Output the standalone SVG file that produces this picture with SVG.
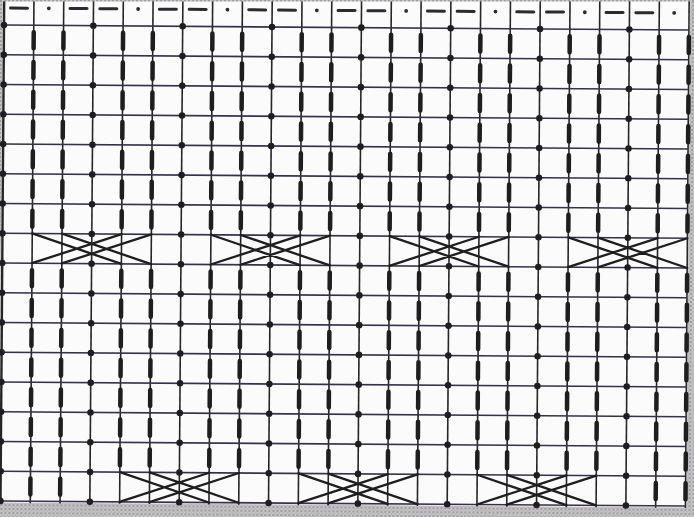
<svg xmlns="http://www.w3.org/2000/svg" width="694" height="517" viewBox="0 0 694 517">
  <defs>
    <pattern id="halftone" width="4" height="4" patternUnits="userSpaceOnUse">
      <rect width="4" height="4" fill="#c6c4c6"/>
      <circle cx="1" cy="1" r="0.9" fill="#8d8b90"/>
      <circle cx="3" cy="3" r="0.7" fill="#a7a2a8"/>
    </pattern>
    <style>
      .vline { stroke: #262626; stroke-width: 1.6; }
      .hline { stroke: #33324a; stroke-width: 1.6; }
      .bar { stroke: #1e1e1e; stroke-width: 4.5; stroke-linecap: round; stroke-dasharray: 16 13.75; fill: none; }
      .dots { stroke: #1e1e1e; stroke-width: 6.5; stroke-linecap: round; stroke-dasharray: 0 29.75; fill: none; }
      .dash { stroke: #2c2a30; stroke-width: 3; stroke-linecap: round; }
      .hdot { fill: #2c2a30; }
      .cable { stroke: #1e1e1e; stroke-width: 2.3; fill: none; stroke-linecap: round; }
    </style>
  </defs>
  <rect width="694" height="517" fill="#fbfbfb"/>
  <g transform="rotate(0.42 4 25)">
    <g id="margins">
      <rect x="-30" y="-30" width="32.5" height="580" fill="url(#halftone)"/>
      <rect x="-30" y="502.5" width="760" height="60" fill="url(#halftone)"/>
      <rect x="690" y="-30" width="40" height="580" fill="url(#halftone)"/>
    </g>
    <g id="grid">
      <g id="vertical-lines">
        <line class="vline" x1="4" y1="-10" x2="4" y2="503" style="stroke-width:2.4"/>
        <line class="vline" x1="33.78" y1="-10" x2="33.78" y2="503"/>
        <line class="vline" x1="63.56" y1="-10" x2="63.56" y2="503"/>
        <line class="vline" x1="93.34" y1="-10" x2="93.34" y2="503"/>
        <line class="vline" x1="123.12" y1="-10" x2="123.12" y2="503"/>
        <line class="vline" x1="152.9" y1="-10" x2="152.9" y2="503"/>
        <line class="vline" x1="182.68" y1="-10" x2="182.68" y2="503"/>
        <line class="vline" x1="212.46" y1="-10" x2="212.46" y2="503"/>
        <line class="vline" x1="242.24" y1="-10" x2="242.24" y2="503"/>
        <line class="vline" x1="272.02" y1="-10" x2="272.02" y2="503"/>
        <line class="vline" x1="301.8" y1="-10" x2="301.8" y2="503"/>
        <line class="vline" x1="331.58" y1="-10" x2="331.58" y2="503"/>
        <line class="vline" x1="361.36" y1="-10" x2="361.36" y2="503"/>
        <line class="vline" x1="391.14" y1="-10" x2="391.14" y2="503"/>
        <line class="vline" x1="420.92" y1="-10" x2="420.92" y2="503"/>
        <line class="vline" x1="450.7" y1="-10" x2="450.7" y2="503"/>
        <line class="vline" x1="480.48" y1="-10" x2="480.48" y2="503"/>
        <line class="vline" x1="510.26" y1="-10" x2="510.26" y2="503"/>
        <line class="vline" x1="540.04" y1="-10" x2="540.04" y2="503"/>
        <line class="vline" x1="569.82" y1="-10" x2="569.82" y2="503"/>
        <line class="vline" x1="599.6" y1="-10" x2="599.6" y2="503"/>
        <line class="vline" x1="629.38" y1="-10" x2="629.38" y2="503"/>
        <line class="vline" x1="659.16" y1="-10" x2="659.16" y2="503"/>
        <line class="vline" x1="688.94" y1="-10" x2="688.94" y2="503"/>
      </g>
      <g id="horizontal-lines">
        <line class="hline" x1="4" y1="25" x2="689" y2="25"/>
        <line class="hline" x1="4" y1="54.75" x2="689" y2="54.75"/>
        <line class="hline" x1="4" y1="84.5" x2="689" y2="84.5"/>
        <line class="hline" x1="4" y1="114.25" x2="689" y2="114.25"/>
        <line class="hline" x1="4" y1="144" x2="689" y2="144"/>
        <line class="hline" x1="4" y1="173.75" x2="689" y2="173.75"/>
        <line class="hline" x1="4" y1="203.5" x2="689" y2="203.5"/>
        <line class="hline" x1="4" y1="233.25" x2="689" y2="233.25"/>
        <line class="hline" x1="4" y1="263" x2="689" y2="263"/>
        <line class="hline" x1="4" y1="292.75" x2="689" y2="292.75"/>
        <line class="hline" x1="4" y1="322.5" x2="689" y2="322.5"/>
        <line class="hline" x1="4" y1="352.25" x2="689" y2="352.25"/>
        <line class="hline" x1="4" y1="382" x2="689" y2="382"/>
        <line class="hline" x1="4" y1="411.75" x2="689" y2="411.75"/>
        <line class="hline" x1="4" y1="441.5" x2="689" y2="441.5"/>
        <line class="hline" x1="4" y1="471.25" x2="689" y2="471.25"/>
        <line class="hline" x1="4" y1="501" x2="689" y2="501"/>
      </g>
    </g>
    <g id="header-row">
      <line class="dash" x1="10.39" y1="8" x2="27.39" y2="8"/>
      <circle class="hdot" cx="48.67" cy="8" r="1.9"/>
      <line class="dash" x1="69.95" y1="8" x2="86.95" y2="8"/>
      <line class="dash" x1="99.73" y1="8" x2="116.73" y2="8"/>
      <circle class="hdot" cx="138.01" cy="8" r="1.9"/>
      <line class="dash" x1="159.29" y1="8" x2="176.29" y2="8"/>
      <line class="dash" x1="189.07" y1="8" x2="206.07" y2="8"/>
      <circle class="hdot" cx="227.35" cy="8" r="1.9"/>
      <line class="dash" x1="248.63" y1="8" x2="265.63" y2="8"/>
      <line class="dash" x1="278.41" y1="8" x2="295.41" y2="8"/>
      <circle class="hdot" cx="316.69" cy="8" r="1.9"/>
      <line class="dash" x1="337.97" y1="8" x2="354.97" y2="8"/>
      <line class="dash" x1="367.75" y1="8" x2="384.75" y2="8"/>
      <circle class="hdot" cx="406.03" cy="8" r="1.9"/>
      <line class="dash" x1="427.31" y1="8" x2="444.31" y2="8"/>
      <line class="dash" x1="457.09" y1="8" x2="474.09" y2="8"/>
      <circle class="hdot" cx="495.37" cy="8" r="1.9"/>
      <line class="dash" x1="516.65" y1="8" x2="533.65" y2="8"/>
      <line class="dash" x1="546.43" y1="8" x2="563.43" y2="8"/>
      <circle class="hdot" cx="584.71" cy="8" r="1.9"/>
      <line class="dash" x1="605.99" y1="8" x2="622.99" y2="8"/>
      <line class="dash" x1="635.77" y1="8" x2="652.77" y2="8"/>
      <circle class="hdot" cx="674.05" cy="8" r="1.9"/>
    </g>
    <g id="purl-dots">
      <line class="dots" x1="4" y1="25" x2="4" y2="501.5"/>
      <line class="dots" x1="93.34" y1="25" x2="93.34" y2="501.5"/>
      <line class="dots" x1="182.68" y1="25" x2="182.68" y2="501.5"/>
      <line class="dots" x1="272.02" y1="25" x2="272.02" y2="501.5"/>
      <line class="dots" x1="361.36" y1="25" x2="361.36" y2="501.5"/>
      <line class="dots" x1="450.7" y1="25" x2="450.7" y2="501.5"/>
      <line class="dots" x1="540.04" y1="25" x2="540.04" y2="501.5"/>
      <line class="dots" x1="629.38" y1="25" x2="629.38" y2="501.5"/>
    </g>
    <g id="knit-bars-upper">
      <line class="bar" x1="33.78" y1="32" x2="33.78" y2="226.5"/>
      <line class="bar" x1="63.56" y1="32" x2="63.56" y2="226.5"/>
      <line class="bar" x1="123.12" y1="32" x2="123.12" y2="226.5"/>
      <line class="bar" x1="152.9" y1="32" x2="152.9" y2="226.5"/>
      <line class="bar" x1="212.46" y1="32" x2="212.46" y2="226.5"/>
      <line class="bar" x1="242.24" y1="32" x2="242.24" y2="226.5"/>
      <line class="bar" x1="301.8" y1="32" x2="301.8" y2="226.5"/>
      <line class="bar" x1="331.58" y1="32" x2="331.58" y2="226.5"/>
      <line class="bar" x1="391.14" y1="32" x2="391.14" y2="226.5"/>
      <line class="bar" x1="420.92" y1="32" x2="420.92" y2="226.5"/>
      <line class="bar" x1="480.48" y1="32" x2="480.48" y2="226.5"/>
      <line class="bar" x1="510.26" y1="32" x2="510.26" y2="226.5"/>
      <line class="bar" x1="569.82" y1="32" x2="569.82" y2="226.5"/>
      <line class="bar" x1="599.6" y1="32" x2="599.6" y2="226.5"/>
      <line class="bar" x1="659.16" y1="32" x2="659.16" y2="226.5"/>
      <line class="bar" x1="688.94" y1="32" x2="688.94" y2="226.5"/>
    </g>
    <g id="knit-bars-lower">
      <line class="bar" x1="33.78" y1="270" x2="33.78" y2="494.25"/>
      <line class="bar" x1="63.56" y1="270" x2="63.56" y2="494.25"/>
      <line class="bar" x1="123.12" y1="270" x2="123.12" y2="464.5"/>
      <line class="bar" x1="152.9" y1="270" x2="152.9" y2="464.5"/>
      <line class="bar" x1="212.46" y1="270" x2="212.46" y2="464.5"/>
      <line class="bar" x1="242.24" y1="270" x2="242.24" y2="464.5"/>
      <line class="bar" x1="301.8" y1="270" x2="301.8" y2="464.5"/>
      <line class="bar" x1="331.58" y1="270" x2="331.58" y2="464.5"/>
      <line class="bar" x1="391.14" y1="270" x2="391.14" y2="464.5"/>
      <line class="bar" x1="420.92" y1="270" x2="420.92" y2="464.5"/>
      <line class="bar" x1="480.48" y1="270" x2="480.48" y2="464.5"/>
      <line class="bar" x1="510.26" y1="270" x2="510.26" y2="464.5"/>
      <line class="bar" x1="569.82" y1="270" x2="569.82" y2="464.5"/>
      <line class="bar" x1="599.6" y1="270" x2="599.6" y2="464.5"/>
      <line class="bar" x1="659.16" y1="270" x2="659.16" y2="494.25"/>
      <line class="bar" x1="688.94" y1="270" x2="688.94" y2="494.25"/>
    </g>
    <g id="cables">
      <g id="cable-r8-1"><path class="cable" d="M33.78 233.25L123.12 263M63.56 233.25L152.9 263M33.78 263L123.12 233.25M63.56 263L152.9 233.25"/></g>
      <g id="cable-r8-2"><path class="cable" d="M212.46 233.25L301.8 263M242.24 233.25L331.58 263M212.46 263L301.8 233.25M242.24 263L331.58 233.25"/></g>
      <g id="cable-r8-3"><path class="cable" d="M391.14 233.25L480.48 263M420.92 233.25L510.26 263M391.14 263L480.48 233.25M420.92 263L510.26 233.25"/></g>
      <g id="cable-r8-4"><path class="cable" d="M569.82 233.25L659.16 263M599.6 233.25L688.94 263M569.82 263L659.16 233.25M599.6 263L688.94 233.25"/></g>
      <g id="cable-r16-1"><path class="cable" d="M123.12 471.25L212.46 501M152.9 471.25L242.24 501M123.12 501L212.46 471.25M152.9 501L242.24 471.25"/></g>
      <g id="cable-r16-2"><path class="cable" d="M301.8 471.25L391.14 501M331.58 471.25L420.92 501M301.8 501L391.14 471.25M331.58 501L420.92 471.25"/></g>
      <g id="cable-r16-3"><path class="cable" d="M480.48 471.25L569.82 501M510.26 471.25L599.6 501M480.48 501L569.82 471.25M510.26 501L599.6 471.25"/></g>
    </g>
  </g>
  <rect id="top-edge" x="0" y="0" width="694" height="1.5" fill="url(#halftone)"/>
</svg>
